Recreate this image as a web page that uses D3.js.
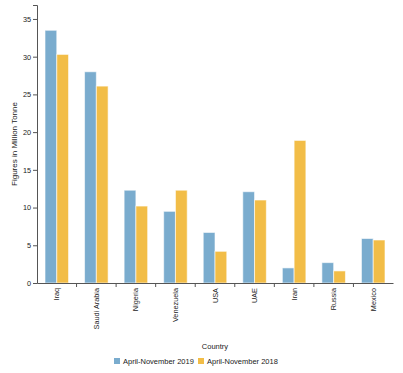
<!DOCTYPE html>
<html>
<head>
<meta charset="utf-8">
<script src="https://cdnjs.cloudflare.com/ajax/libs/d3/7.8.5/d3.min.js"></script>
<style>
  body { margin: 0; background: #fff; }
  svg { font-family: Arial, "Liberation Sans", sans-serif; }
  .axis path, .axis line { stroke: #555; }
  .axis text { fill: #222; font-size: 7.3px; }
  .axisTitle { fill: #222; font-size: 7.5px; }
  .legendText { fill: #222; font-size: 7.5px; }
</style>
</head>
<body>
<div id="chart"></div>
<script>
var countries = ["Iraq", "Saudi Arabia", "Nigeria", "Venezuela", "USA", "UAE", "Iran", "Russia", "Mexico"];
var series = ["April-November 2019", "April-November 2018"];
var values2019 = [33.5, 28.0, 12.3, 9.5, 6.7, 12.1, 2.0, 2.7, 5.9];
var values2018 = [30.3, 26.1, 10.2, 12.3, 4.2, 11.0, 18.9, 1.6, 5.7];
var yTicks = [0, 5, 10, 15, 20, 25, 30, 35];

var colours = ["#7aacce", "#f2bd47"];

var width = 403,
    height = 373;
var margin = {top: 5, right: 10, bottom: 90, left: 37};

var data = countries.map(function(c, i) {
    return {country: c, values: [values2019[i], values2018[i]]};
});

var svg = d3.select("#chart")
    .append("svg")
    .attr("width", width)
    .attr("height", height);

var innerW = width - margin.left - margin.right,
    innerH = height - margin.top - margin.bottom;

var g = svg.append("g")
    .attr("transform", "translate(" + margin.left + "," + margin.top + ")");

var x0 = d3.scaleBand()
    .domain(countries)
    .range([0, innerW])
    .padding(0);

var x1 = d3.scaleBand()
    .domain([0, 1])
    .range([0, x0.bandwidth()])
    .paddingInner(0)
    .paddingOuter(0.68);

var y = d3.scaleLinear()
    .domain([0, d3.max(values2019.concat(values2018)) * 1.1])
    .range([innerH, 0]);

// bars
var groups = g.selectAll(".group")
    .data(data)
    .enter().append("g")
    .attr("class", "group")
    .attr("transform", function(d) { return "translate(" + x0(d.country) + ",0)"; });

groups.selectAll("rect")
    .data(function(d) { return d.values.map(function(v, i) { return {i: i, v: v}; }); })
    .enter().append("rect")
    .attr("x", function(d) { return x1(d.i); })
    .attr("y", function(d) { return y(d.v); })
    .attr("width", x1.bandwidth())
    .attr("height", function(d) { return innerH - y(d.v); })
    .style("fill", function(d) { return colours[d.i]; })
    .style("stroke", "#fff")
    .style("stroke-opacity", 0.6)
    .style("stroke-width", 1);

// axes
var xAxis = d3.axisBottom(x0).tickSize(0).tickPadding(0);
var gX = g.append("g")
    .attr("class", "axis xAxis")
    .attr("transform", "translate(0," + innerH + ")")
    .call(xAxis);

gX.selectAll(".tick text")
    .attr("transform", "rotate(-90)")
    .attr("x", -5)
    .attr("y", 0)
    .attr("dy", "0.35em")
    .style("text-anchor", "end");

// ticks at band boundaries
gX.selectAll(".bandTick")
    .data(countries.slice(1))
    .enter().append("line")
    .attr("class", "bandTick")
    .attr("x1", function(d) { return x0(d); })
    .attr("x2", function(d) { return x0(d); })
    .attr("y1", 0)
    .attr("y2", 4)
    .style("stroke", "#555");

var yAxis = d3.axisLeft(y).tickValues(yTicks).tickSize(4).tickPadding(2);
g.append("g")
    .attr("class", "axis yAxis")
    .call(yAxis);

// axis titles
svg.append("text")
    .attr("class", "axisTitle")
    .attr("transform", "translate(14," + (margin.top + innerH / 2) + ") rotate(-90)")
    .attr("dy", "0.35em")
    .style("text-anchor", "middle")
    .style("font-size", "8px")
    .text("Figures in Million Tonne");

svg.append("text")
    .attr("class", "axisTitle")
    .attr("x", margin.left + innerW / 2)
    .attr("y", 346)
    .attr("dy", "0.35em")
    .style("text-anchor", "middle")
    .text("Country");

// legend
var legendX = [114, 198];
var legend = svg.selectAll(".legend")
    .data(series)
    .enter().append("g")
    .attr("class", "legend")
    .attr("transform", function(d, i) { return "translate(" + legendX[i] + ",358)"; });

legend.append("rect")
    .attr("width", 6)
    .attr("height", 6)
    .style("fill", function(d, i) { return colours[i]; });

legend.append("text")
    .attr("class", "legendText")
    .attr("x", 9)
    .attr("y", 3)
    .attr("dy", "0.35em")
    .text(function(d) { return d; });
</script>
</body>
</html>
